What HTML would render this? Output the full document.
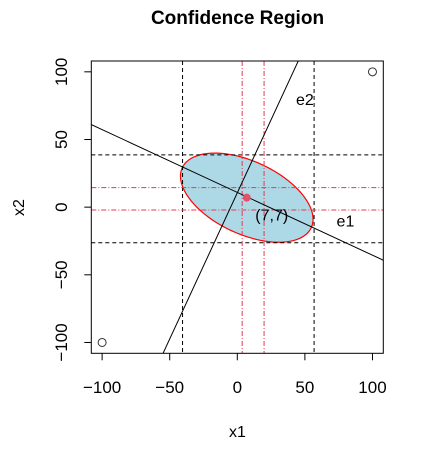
<!DOCTYPE html>
<html><head><meta charset="utf-8"><style>
html,body{margin:0;padding:0;background:#fff;overflow:hidden;width:436px;height:463px;}
svg{display:block;font-family:"Liberation Sans",Arial,sans-serif;}
</style></head><body>
<svg id="chart" width="436" height="463" viewBox="0 0 436 463">
<text x="237.5" y="24" text-anchor="middle" font-size="19" font-weight="bold">Confidence Region</text>
<text x="237.5" y="437" text-anchor="middle" font-size="16">x1</text>
<text transform="translate(24,207.5) rotate(-90)" text-anchor="middle" font-size="16">x2</text>
<g id="plot"></g>
</svg>
<script>
const xTicks=[-100,-50,0,50,100];
const yTicks=[-100,-50,0,50,100];
const points=[[-100,-100],[100,100]];
const center=[7,7];
const ellipseAxes=[52.6,26.9];
const ellipseAngle=-24.9;
const boxX=[-40.5,56.8];
const boxY=[-26.3,38.6];
const ciX=[3.6,19.8];
const ciY=[-2.1,14.4];
const lineSlopes=[-0.464,2.16];
const lineIntercepts=[10.9,10.6];
const lineNames=["e1","e2"];
const lineLabelPos=[[80,-10],[50,80]];
const centerLabel="(7,7)";

const L=91.3,R=383.3,T=61,B=353.3,X0=-108,X1=108,Y0=-108,Y1=108;
const sx=v=>L+(v-X0)/(X1-X0)*(R-L);
const sy=v=>B-(v-Y0)/(Y1-Y0)*(B-T);
const NS="http://www.w3.org/2000/svg";
const g=document.getElementById('plot');
function mk(tag,attrs,parent){const e=document.createElementNS(NS,tag);for(const k in attrs)e.setAttribute(k,attrs[k]);(parent||g).appendChild(e);return e;}

const defs=mk('defs',{});
const cp=mk('clipPath',{id:'clip'},defs);
mk('rect',{x:L,y:T,width:R-L,height:B-T},cp);
const clipG=mk('g',{'clip-path':'url(#clip)'});



const ang=ellipseAngle*Math.PI/180;
let d='';
for(let i=0;i<=100;i++){const t=i/100*2*Math.PI;const u=ellipseAxes[0]*Math.cos(t),w=ellipseAxes[1]*Math.sin(t);
const x=center[0]+u*Math.cos(ang)-w*Math.sin(ang),y=center[1]+u*Math.sin(ang)+w*Math.cos(ang);
d+=(i?'L':'M')+sx(x).toFixed(2)+','+sy(y).toFixed(2);}
const el=mk('path',{d:d+'Z',fill:'#add8e6',stroke:'#ff0000','stroke-width':1.2},clipG);



boxX.forEach((v,i)=>{const e=mk('line',{x1:sx(v),x2:sx(v),y1:T,y2:B,stroke:'#000','stroke-dasharray':'4,3'},clipG);

});
boxY.forEach((v,i)=>{const e=mk('line',{x1:L,x2:R,y1:sy(v),y2:sy(v),stroke:'#000','stroke-dasharray':'4,3'},clipG);

});
ciX.forEach((v,i)=>{const e=mk('line',{x1:sx(v),x2:sx(v),y1:T,y2:B,stroke:'#e8384f','stroke-dasharray':'5,2,1,2'},clipG);

});
ciY.forEach((v,i)=>{const e=mk('line',{x1:L,x2:R,y1:sy(v),y2:sy(v),stroke:'#e8384f','stroke-dasharray':'5,2,1,2'},clipG);

});

lineSlopes.forEach((m,i)=>{const b=lineIntercepts[i];
const e=mk('line',{x1:sx(-300),y1:sy(m*-300+b),x2:sx(300),y2:sy(m*300+b),stroke:'#000','stroke-width':1},clipG);


const t=mk('text',{x:sx(lineLabelPos[i][0]),y:sy(lineLabelPos[i][1])+6,'text-anchor':'middle','font-size':16});
t.textContent=lineNames[i];

});

const cpnt=mk('circle',{cx:sx(center[0]),cy:sy(center[1]),r:4,fill:'#df536b'},clipG);


const ct=mk('text',{x:sx(center[0])+25,y:sy(center[1])+23,'text-anchor':'middle','font-size':16});
ct.textContent=centerLabel;



points.forEach((p,i)=>{const e=mk('circle',{cx:sx(p[0]),cy:sy(p[1]),r:4,fill:'none',stroke:'#333'},clipG);

});

const box=mk('rect',{x:L,y:T,width:R-L,height:B-T,fill:'none',stroke:'#000'});



xTicks.forEach(v=>{const e=mk('line',{x1:sx(v),x2:sx(v),y1:B,y2:B+7,stroke:'#000'});


const t=mk('text',{x:sx(v),y:393,'text-anchor':'middle','font-size':17});
t.textContent=v<0?'\u2212'+(-v):v;

});
yTicks.forEach(v=>{const e=mk('line',{x1:L-7,x2:L,y1:sy(v),y2:sy(v),stroke:'#000'});


const t=mk('text',{'text-anchor':'middle','font-size':17,transform:`translate(67,${sy(v)}) rotate(-90)`});
t.textContent=v<0?'\u2212'+(-v):v;

});
</script>
</body></html>
